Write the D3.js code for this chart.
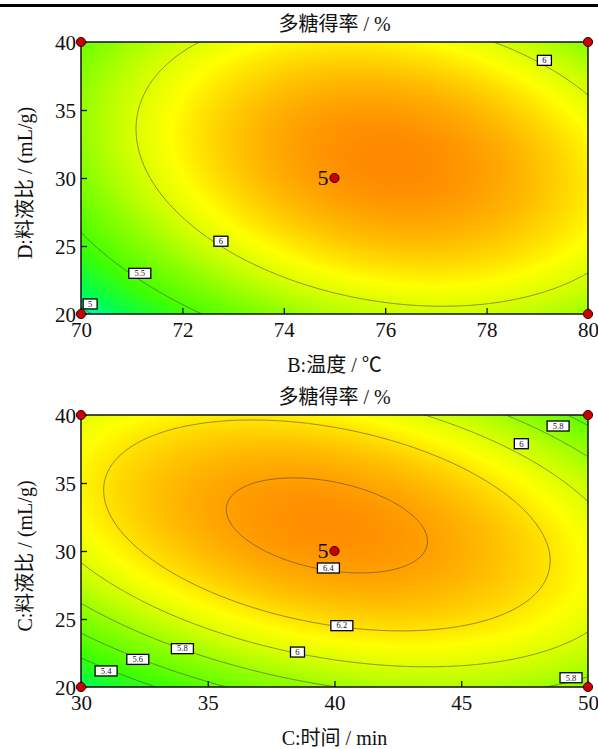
<!DOCTYPE html>
<html>
<head>
<meta charset="utf-8">
<script src="https://cdn.jsdelivr.net/npm/d3@7"></script>
<style>
  body { margin: 0; background: #fff; }
  text { font-family: "Liberation Serif", "Times New Roman", "Noto Sans CJK SC", serif; fill: #111; }
</style>
</head>
<body>
<svg id="chart" width="598" height="749"></svg>
<script>

// ---- panel 1 : B temperature x D ratio
const p1Title   = '多糖得率 / %';
const p1XLabel  = 'B:温度 / ℃';
const p1YLabel  = 'D:料液比 / (mL/g)';
const p1XDomain = [70, 80];
const p1YDomain = [20, 40];
const p1XTicks  = [70, 72, 74, 76, 78, 80];
const p1YTicks  = [20, 25, 30, 35, 40];
// quadratic in coded units: b0, bx, by, bxx, byy, bxy
const p1Coef    = [6.43, 0.2366, 0.1536, -0.488, -0.420, -0.190];
const p1Levels  = [5, 5.5, 6];
const p1Labels  = [[5, 70.18, 20.74], [5.5, 71.16, 22.99], [6, 72.76, 25.35], [6, 79.14, 38.65]];
const p1Points  = [[70, 20], [70, 40], [80, 20], [80, 40], [75, 30]];

// ---- panel 2 : C time x C ratio
const p2Title   = '多糖得率 / %';
const p2XLabel  = 'C:时间 / min';
const p2YLabel  = 'C:料液比 / (mL/g)';
const p2XDomain = [30, 50];
const p2YDomain = [20, 40];
const p2XTicks  = [30, 35, 40, 45, 50];
const p2YTicks  = [20, 25, 30, 35, 40];
const p2Coef    = [6.4356, 0.0302, 0.1684, -0.3644, -0.47, -0.277];
const p2Levels  = [5.4, 5.6, 5.8, 6, 6.2, 6.4];
const p2Labels  = [[5.4, 30.99, 21.18], [5.6, 32.24, 22.03], [5.8, 34.0, 22.82], [6, 38.54, 22.57],
                   [6.2, 40.29, 24.51], [6.4, 39.76, 28.75], [6, 47.37, 37.89], [5.8, 48.82, 39.19],
                   [5.8, 49.33, 20.68]];
const p2Points  = [[30, 20], [30, 40], [50, 20], [50, 40], [40, 30]];

const centerRuns = '5';

const colorStops = [4.9, 5.15, 5.45, 5.75, 6.0, 6.12, 6.26, 6.4, 6.52];
const colorRange = ['#00ffd0', '#00ff50', '#40ff00', '#8cff00', '#dcff00', '#ffff00', '#ffd000', '#ffa000', '#ff7400'];


const svg   = d3.select('#chart');
const W     = 507;
const H     = 272;
const left  = 81;

const color = d3.scaleLinear().domain(colorStops).range(colorRange).clamp(true);

svg.append('rect')
    .attr('x', 0).attr('y', 4).attr('width', 598).attr('height', 3)
    .attr('fill', '#000');

drawPanel(42, {
  title: p1Title, xLabel: p1XLabel, yLabel: p1YLabel,
  xDomain: p1XDomain, yDomain: p1YDomain, xTicks: p1XTicks, yTicks: p1YTicks,
  coef: p1Coef, levels: p1Levels, labels: p1Labels, points: p1Points, id: 'p1'
});

drawPanel(415, {
  title: p2Title, xLabel: p2XLabel, yLabel: p2YLabel,
  xDomain: p2XDomain, yDomain: p2YDomain, xTicks: p2XTicks, yTicks: p2YTicks,
  coef: p2Coef, levels: p2Levels, labels: p2Labels, points: p2Points, id: 'p2'
});


function drawPanel(top, cfg) {

  const x = d3.scaleLinear().domain(cfg.xDomain).range([0, W]);
  const y = d3.scaleLinear().domain(cfg.yDomain).range([H, 0]);

  const xm = (cfg.xDomain[0] + cfg.xDomain[1]) / 2, xh = (cfg.xDomain[1] - cfg.xDomain[0]) / 2;
  const ym = (cfg.yDomain[0] + cfg.yDomain[1]) / 2, yh = (cfg.yDomain[1] - cfg.yDomain[0]) / 2;
  const c  = cfg.coef;
  const f  = (xv, yv) => {
    const u = (xv - xm) / xh, v = (yv - ym) / yh;
    return c[0] + c[1] * u + c[2] * v + c[3] * u * u + c[4] * v * v + c[5] * u * v;
  };

  const g = svg.append('g').attr('transform', `translate(${left},${top})`);

  // filled surface
  const canvas = document.createElement('canvas');
  canvas.width = W;
  canvas.height = H;
  const ctx = canvas.getContext('2d');
  const img = ctx.createImageData(W, H);
  for (let j = 0; j < H; j++) {
    const yv = y.invert(j + 0.5);
    for (let i = 0; i < W; i++) {
      const col = d3.rgb(color(f(x.invert(i + 0.5), yv)));
      const k = (j * W + i) * 4;
      img.data[k] = col.r; img.data[k + 1] = col.g; img.data[k + 2] = col.b; img.data[k + 3] = 255;
    }
  }
  ctx.putImageData(img, 0, 0);
  g.append('image')
      .attr('href', canvas.toDataURL())
      .attr('width', W).attr('height', H)
      .attr('preserveAspectRatio', 'none');

  // contour lines, grid a bit wider than the plot so the borders get clipped
  const nx = 260, ny = 150;
  const gx0 = cfg.xDomain[0] - 0.1 * xh, gx1 = cfg.xDomain[1] + 0.1 * xh;
  const gy0 = cfg.yDomain[0] - 0.1 * yh, gy1 = cfg.yDomain[1] + 0.1 * yh;
  const vals = new Float64Array(nx * ny);
  for (let j = 0; j < ny; j++) {
    const yv = gy1 - j * (gy1 - gy0) / (ny - 1);
    for (let i = 0; i < nx; i++) {
      vals[j * nx + i] = f(gx0 + i * (gx1 - gx0) / (nx - 1), yv);
    }
  }
  const contours = d3.contours().size([nx, ny]).thresholds(cfg.levels)(vals);
  const proj = d3.geoTransform({
    point: function(px, py) {
      this.stream.point(
        x(gx0 + (px - 0.5) * (gx1 - gx0) / (nx - 1)),
        y(gy1 - (py - 0.5) * (gy1 - gy0) / (ny - 1)));
    }
  });
  const path = d3.geoPath(proj);

  g.append('clipPath').attr('id', 'clip-' + cfg.id)
    .append('rect').attr('width', W).attr('height', H);

  g.append('g')
      .attr('clip-path', `url(#clip-${cfg.id})`)
    .selectAll('path').data(contours)
    .enter().append('path')
      .attr('d', path)
      .attr('fill', 'none')
      .attr('stroke', d => d3.interpolateRgb(color(d.value), '#3a3a3a')(0.55))
      .attr('stroke-width', 1);

  // contour labels
  const lab = g.append('g').selectAll('g').data(cfg.labels)
    .enter().append('g')
      .attr('transform', d => `translate(${x(d[1])},${y(d[2])})`);
  lab.append('rect')
      .attr('x', d => -(String(d[0]).length > 1 ? 11 : 7))
      .attr('width', d => String(d[0]).length > 1 ? 22 : 14)
      .attr('y', -5).attr('height', 10)
      .attr('fill', '#fff').attr('stroke', '#000').attr('stroke-width', 1.3);
  lab.append('text')
      .attr('text-anchor', 'middle')
      .attr('dy', '0.33em')
      .attr('font-size', 8.5)
      .text(d => d[0]);

  // frame
  g.append('rect')
      .attr('width', W).attr('height', H)
      .attr('fill', 'none').attr('stroke', '#111').attr('stroke-width', 1.5);

  // axes, ticks pointing inside
  const xAxisG = g.append('g')
      .attr('transform', `translate(0,${H})`)
      .call(d3.axisBottom(x).tickValues(cfg.xTicks).tickSizeInner(-6).tickSizeOuter(0).tickPadding(8));
  const yAxisG = g.append('g')
      .call(d3.axisLeft(y).tickValues(cfg.yTicks).tickSizeInner(-6).tickSizeOuter(0).tickPadding(5));

  [xAxisG, yAxisG].forEach(a => {
    a.select('.domain').remove();
    a.selectAll('.tick line').attr('stroke', '#111').attr('stroke-width', 1.3);
    a.selectAll('.tick text').attr('font-size', 21).attr('font-family', null).attr('fill', '#111');
  });
  yAxisG.selectAll('.tick text').attr('dy', '0.34em');

  // design points
  g.append('g').selectAll('circle').data(cfg.points)
    .enter().append('circle')
      .attr('cx', d => x(d[0]))
      .attr('cy', d => y(d[1]))
      .attr('r', 4.6)
      .attr('fill', '#c80000')
      .attr('stroke', '#3a0000')
      .attr('stroke-width', 1);

  const cp = cfg.points[cfg.points.length - 1];
  g.append('text')
      .attr('x', x(cp[0]) - 6)
      .attr('y', y(cp[1]))
      .attr('dy', '0.34em')
      .attr('text-anchor', 'end')
      .attr('font-size', 22)
      .text(centerRuns);

  // titles
  g.append('text')
      .attr('x', W / 2)
      .attr('y', -11)
      .attr('text-anchor', 'middle')
      .attr('font-size', 20)
      .text(cfg.title);

  g.append('text')
      .attr('x', W / 2)
      .attr('y', H + 58)
      .attr('text-anchor', 'middle')
      .attr('font-size', 20)
      .text(cfg.xLabel);

  g.append('text')
      .attr('transform', `translate(${-56},${H / 2 + 5}) rotate(-90)`)
      .attr('text-anchor', 'middle')
      .attr('dy', '0.35em')
      .attr('font-size', 20)
      .text(cfg.yLabel);
}

</script>
</body>
</html>
